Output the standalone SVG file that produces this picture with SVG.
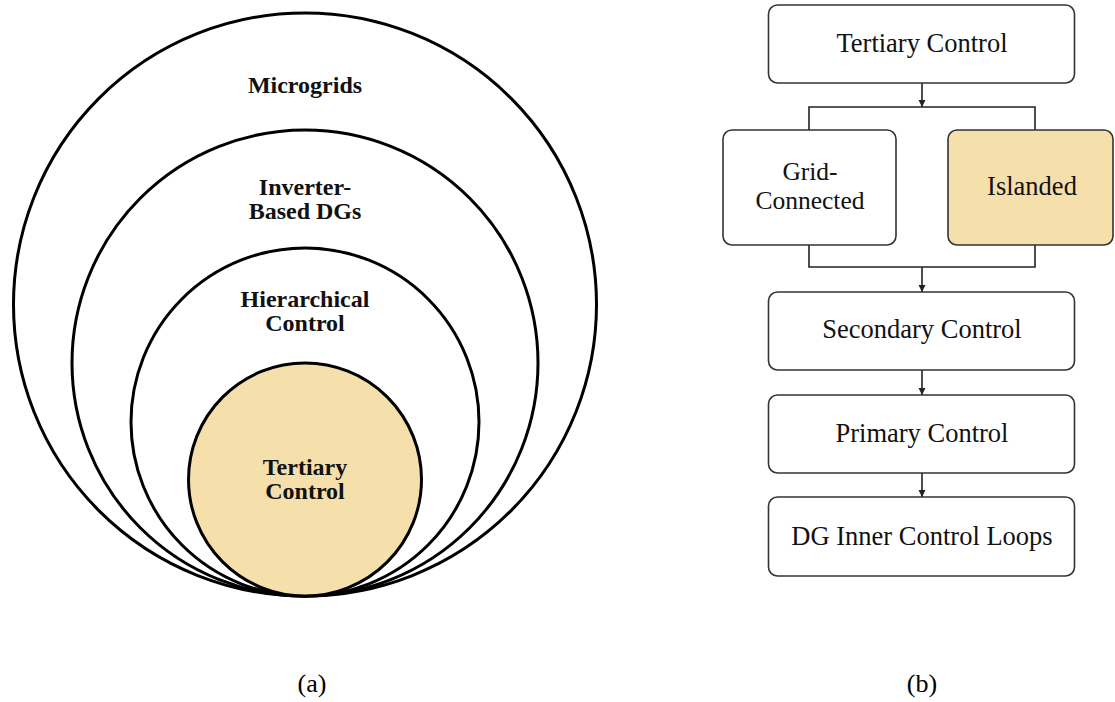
<svg xmlns="http://www.w3.org/2000/svg" width="1115" height="702" viewBox="0 0 1115 702">
<style>
.ring{fill:none;stroke:#000;stroke-width:3}
.fillc{fill:#F5DFAB;stroke:#000;stroke-width:3}
.lt{font-family:"Liberation Serif","Times New Roman",serif;font-weight:bold;font-size:24px;fill:#111;text-anchor:middle}
.box{fill:#fff;stroke:#333;stroke-width:1.6}
.boxf{fill:#F5DFAB;stroke:#333;stroke-width:1.6}
.rt{font-family:"Liberation Serif","Times New Roman",serif;font-size:26.5px;fill:#111;text-anchor:middle}
.rt2{font-family:"Liberation Serif","Times New Roman",serif;font-size:25.5px;fill:#111;text-anchor:middle}
.cn{fill:none;stroke:#222;stroke-width:1.6}
.cap{font-family:"Liberation Serif","Times New Roman",serif;font-size:26px;fill:#000;text-anchor:middle}
</style>
<defs>
<marker id="ah" viewBox="0 0 10 10" refX="10" refY="5" markerWidth="4.5" markerHeight="4.5" orient="auto" markerUnits="strokeWidth">
<path d="M0,0 L10,5 L0,10 z" fill="#222"/>
</marker>
</defs>
<rect width="1115" height="702" fill="#fff"/>
<g id="panel-a">
<g id="microgrids"><circle class="ring" cx="305" cy="304.5" r="291.5"/><text class="lt" x="305" y="93">Microgrids</text></g>
<g id="inverter-dgs"><circle class="ring" cx="305" cy="363" r="233"/><text class="lt" x="305" y="195">Inverter-</text><text class="lt" x="305" y="219">Based DGs</text></g>
<g id="hierarchical"><circle class="ring" cx="305" cy="422" r="174"/><text class="lt" x="305" y="307">Hierarchical</text><text class="lt" x="305" y="331">Control</text></g>
<g id="tertiary-a"><circle class="fillc" cx="305" cy="479.5" r="116.5"/><text class="lt" x="305" y="475">Tertiary</text><text class="lt" x="305" y="499">Control</text></g>
</g>
<g id="panel-b">
<g id="connectors">
<line class="cn" x1="922" y1="83" x2="922" y2="107" marker-end="url(#ah)"/>
<polyline class="cn" points="809,130 809,107 1035,107 1035,130"/>
<polyline class="cn" points="809,245 809,267 1035,267 1035,245"/>
<line class="cn" x1="922" y1="267" x2="922" y2="292" marker-end="url(#ah)"/>
<line class="cn" x1="922" y1="370" x2="922" y2="395" marker-end="url(#ah)"/>
<line class="cn" x1="922" y1="473" x2="922" y2="497" marker-end="url(#ah)"/>
</g>
<g id="tertiary-b"><rect class="box" x="768.5" y="5" width="306" height="78" rx="9"/><text class="rt" x="922" y="52">Tertiary Control</text></g>
<g id="grid-connected"><rect class="box" x="723" y="130" width="173" height="115" rx="9"/><text class="rt2" x="810" y="180">Grid-</text><text class="rt2" x="810" y="209">Connected</text></g>
<g id="islanded"><rect class="boxf" x="948" y="130" width="165" height="115" rx="9"/><text class="rt" x="1032" y="195">Islanded</text></g>
<g id="secondary"><rect class="box" x="768.5" y="292" width="306" height="78" rx="9"/><text class="rt" x="922" y="338">Secondary Control</text></g>
<g id="primary"><rect class="box" x="768.5" y="395" width="306" height="78" rx="9"/><text class="rt" x="922" y="442">Primary Control</text></g>
<g id="inner-loops"><rect class="box" x="768.5" y="497" width="306" height="79" rx="9"/><text class="rt" x="922" y="545">DG Inner Control Loops</text></g>
</g>
<text class="cap" x="312" y="692">(a)</text>
<text class="cap" x="922" y="692">(b)</text>
</svg>
